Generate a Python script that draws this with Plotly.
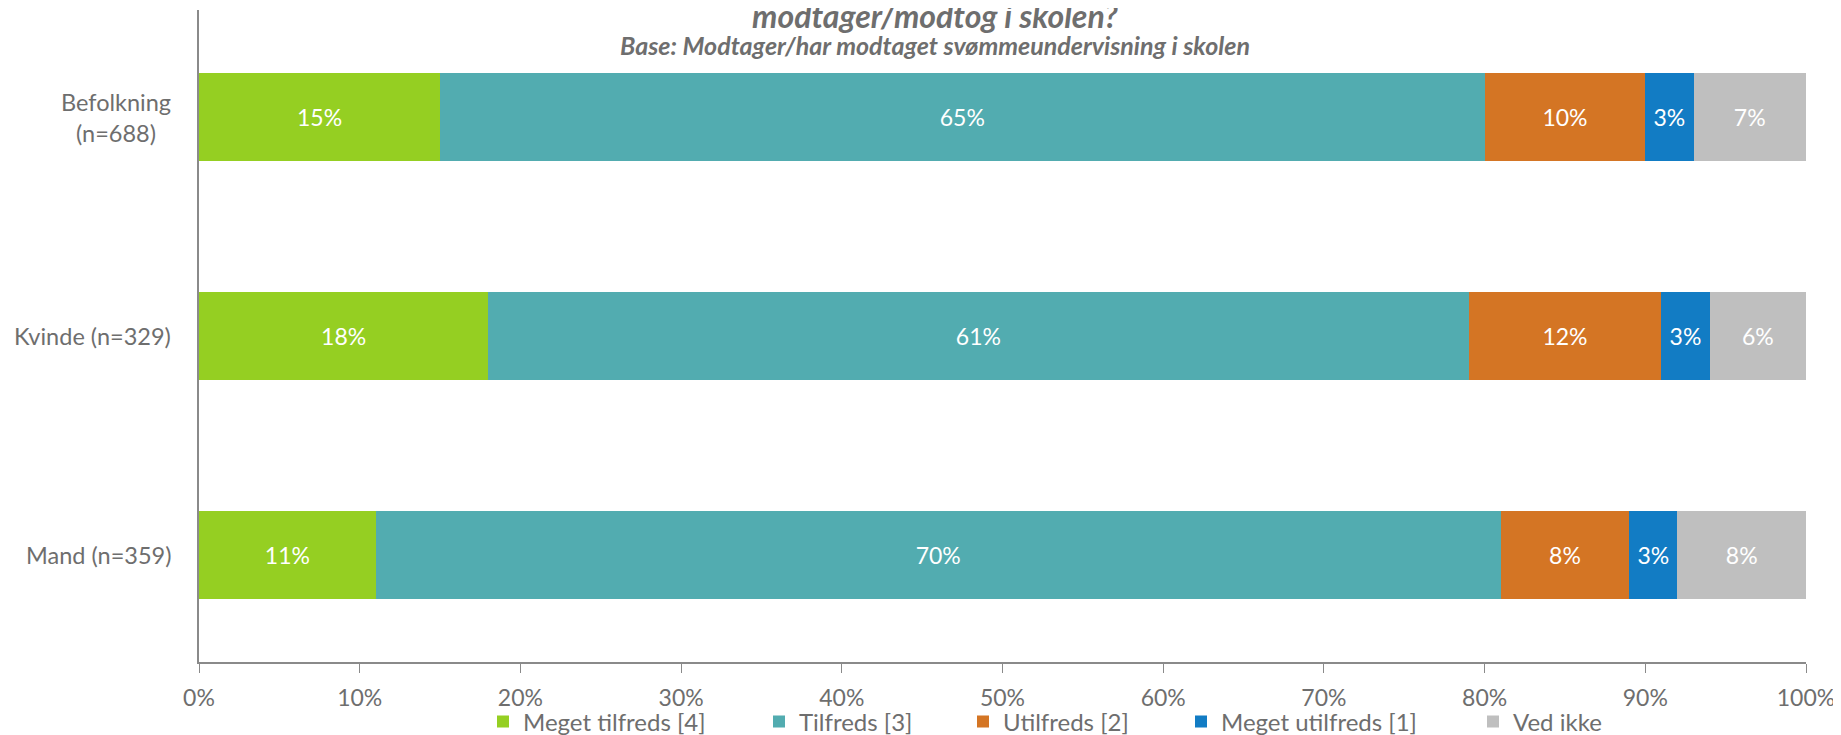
import plotly.graph_objects as go

categories = ["Befolkning<br>(n=688)", "Kvinde (n=329)", "Mand (n=359)"]
series_names = ["Meget tilfreds [4]", "Tilfreds [3]", "Utilfreds [2]", "Meget utilfreds [1]", "Ved ikke"]
meget_tilfreds = [15, 18, 11]
tilfreds = [65, 61, 70]
utilfreds = [10, 12, 8]
meget_utilfreds = [3, 3, 3]
ved_ikke = [7, 6, 8]
colors = ["#95CF22", "#52ACB0", "#D47524", "#127CC4", "#BFBFBF"]
x_ticks = [0, 10, 20, 30, 40, 50, 60, 70, 80, 90, 100]

all_series = [meget_tilfreds, tilfreds, utilfreds, meget_utilfreds, ved_ikke]

W, H = 1841, 735
L, R, T, B = 191, 43, 2, 81
FONT = "Lato"
GREY = "#6E6E6E"
AXIS = "#8A8A8A"

plot_w = W - L - R
plot_h = H - T - B
def py(pix):
    return (H - B - pix) / plot_h
def px(pix):
    return (pix - L) / plot_w

# legend box left edges (figure px)
legend_x = [475, 751, 955, 1173, 1465]
legend_ids = ["legend", "legend2", "legend3", "legend4", "legend5"]

fig = go.Figure()
for name, vals, col, lid in zip(series_names, all_series, colors, legend_ids):
    fig.add_trace(go.Bar(
        y=categories, x=vals, name=name, orientation="h",
        marker=dict(color=col, line=dict(width=0)),
        width=0.4,
        text=[f"{v}%" for v in vals],
        textposition="inside", insidetextanchor="middle",
        textangle=0, constraintext="none",
        textfont=dict(color="white", size=23, family=FONT),
        hoverinfo="skip", legend=lid,
    ))

legends = {}
for lid, lx in zip(legend_ids, legend_x):
    legends[lid] = dict(orientation="h", x=px(lx), xanchor="left",
                        y=py(714), yanchor="middle",
                        font=dict(size=24, color=GREY, family=FONT),
                        itemwidth=30, bgcolor="rgba(0,0,0,0)", borderwidth=0)

fig.update_layout(
    width=W, height=H, barmode="stack",
    margin=dict(l=L, r=R, t=T, b=B, pad=0, autoexpand=False),
    paper_bgcolor="white", plot_bgcolor="white",
    font=dict(family=FONT, color=GREY, size=23),
    showlegend=True,
    xaxis=dict(range=[0, 100], tickvals=x_ticks, ticktext=[f"{v}%" for v in x_ticks],
               showgrid=False, zeroline=False, showline=True, linecolor=AXIS, linewidth=2,
               ticks="outside", ticklen=9, tickcolor=AXIS, tickwidth=1,
               tickfont=dict(size=23, color=GREY, family=FONT), ticklabelstandoff=5,
               automargin=False),
    yaxis=dict(type="category", categoryorder="array", categoryarray=categories,
               range=[2.49, -0.49], showgrid=False, zeroline=False,
               showline=True, linecolor=AXIS, linewidth=2, ticks="",
               showticklabels=False, automargin=False),
    **legends,
)

for cat in categories:
    fig.add_annotation(text=cat, xref="paper", yref="y", x=px(165), y=cat,
                       xanchor="right", yanchor="middle", align="center", showarrow=False,
                       font=dict(size=23.5, color=GREY, family=FONT))

fig.add_annotation(text="<b><i>modtager/modtog i skolen?</i></b>", xref="paper", yref="paper",
                   x=px(927), y=py(8), xanchor="center", yanchor="middle", showarrow=False,
                   font=dict(size=32, color=GREY, family=FONT))
fig.add_annotation(text="<b><i>Base: Modtager/har modtaget svømmeundervisning i skolen</i></b>",
                   xref="paper", yref="paper",
                   x=px(927), y=py(37), xanchor="center", yanchor="middle", showarrow=False,
                   font=dict(size=25, color=GREY, family=FONT))

fig.write_html("out.html")
